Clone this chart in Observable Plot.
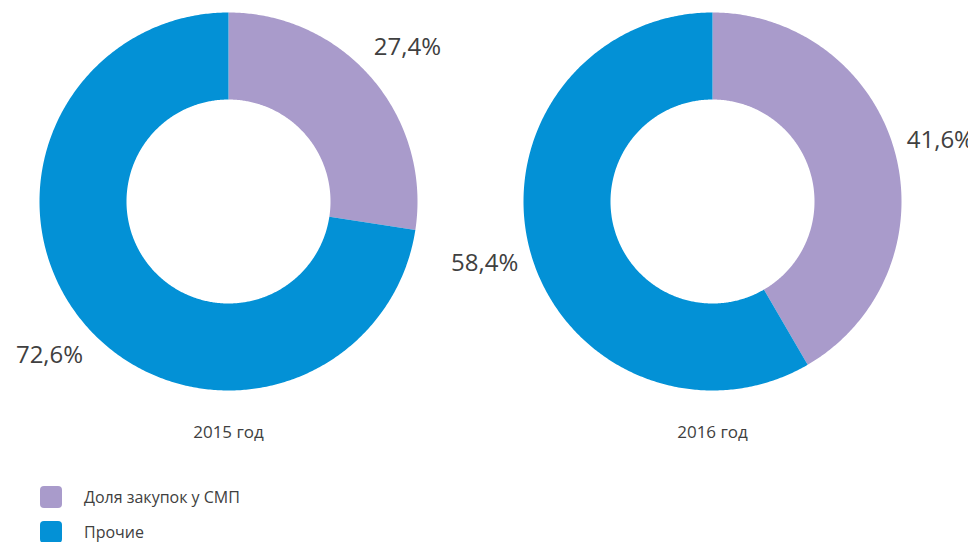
<!DOCTYPE html>
<html>
<head>
<meta charset="utf-8">
<script src="https://cdn.jsdelivr.net/npm/d3@7"></script>
<script src="https://cdn.jsdelivr.net/npm/@observablehq/plot@0.6"></script>
<style>
  html, body { margin: 0; padding: 0; background: #fff; overflow: hidden; }
  body { width: 968px; height: 542px; font-family: "Open Sans", sans-serif; }
  .legend { position: relative; height: 72px; }
  .item { position: absolute; left: 40px; display: flex; align-items: center; font-size: 16px; line-height: 22px; color: #404040; }
  .sw { width: 22px; height: 22px; border-radius: 4px; margin-right: 22px; }
</style>
</head>
<body>
<div id="chart"></div>
<div class="legend" id="legend"></div>
<script>
// ---- data ----
const years = ["2015 год", "2016 год"];
const categories = ["Доля закупок у СМП", "Прочие"];
const share2015 = [27.4, 72.6];
const share2016 = [41.6, 58.4];
const colors = ["#a99bcb", "#0391d6"];

// ---- layout ----
const W = 968, H = 470;
const centersX = [228, 712], centerY = 201;
const rOuter = 189, rInner = 102, rLabel = 236;

const series = [share2015, share2016];
const slices = [], labels = [], yearLabels = [];
series.forEach((vals, di) => {
  const total = d3.sum(vals);
  let acc = 0;
  vals.forEach((v, ci) => {
    const a0 = acc / total * 2 * Math.PI;
    acc += v;
    const a1 = acc / total * 2 * Math.PI;
    const key = di + "-" + ci;
    const n = Math.max(2, Math.ceil((a1 - a0) / 0.01));
    const pts = [];
    for (let i = 0; i <= n; i++) {
      const a = a0 + (a1 - a0) * i / n;
      pts.push({a, r: rOuter});
    }
    for (let i = n; i >= 0; i--) {
      const a = a0 + (a1 - a0) * i / n;
      pts.push({a, r: rInner});
    }
    pts.forEach(p => slices.push({
      key, cat: categories[ci],
      x: centersX[di] + p.r * Math.sin(p.a),
      y: centerY - p.r * Math.cos(p.a)
    }));
    const am = (a0 + a1) / 2;
    labels.push({
      x: centersX[di] + rLabel * Math.sin(am),
      y: centerY - rLabel * Math.cos(am),
      text: v.toFixed(1).replace(".", ",") + "%"
    });
  });
  yearLabels.push({x: centersX[di], y: 432, text: years[di]});
});

const chart = Plot.plot({
  width: W, height: H,
  margin: 0,
  style: {fontFamily: "'Open Sans', sans-serif", background: "#fff"},
  x: {domain: [0, W], range: [0, W], axis: null},
  y: {domain: [0, H], range: [0, H], axis: null},
  color: {domain: categories, range: colors},
  marks: [
    Plot.line(slices, {x: "x", y: "y", z: "key", fill: "cat", stroke: "none", curve: "linear-closed"}),
    Plot.text(labels, {x: "x", y: "y", text: "text", fontSize: 24, fill: "#404040"}),
    Plot.text(yearLabels, {x: "x", y: "y", text: "text", fontSize: 17, fill: "#404040"})
  ]
});
document.getElementById("chart").appendChild(chart);

const legend = document.getElementById("legend");
categories.forEach((c, i) => {
  const item = document.createElement("div");
  item.className = "item";
  item.style.top = (16 + i * 35) + "px";
  const sw = document.createElement("div");
  sw.className = "sw";
  sw.style.background = colors[i];
  const t = document.createElement("span");
  t.textContent = c;
  item.appendChild(sw);
  item.appendChild(t);
  legend.appendChild(item);
});
</script>
</body>
</html>
